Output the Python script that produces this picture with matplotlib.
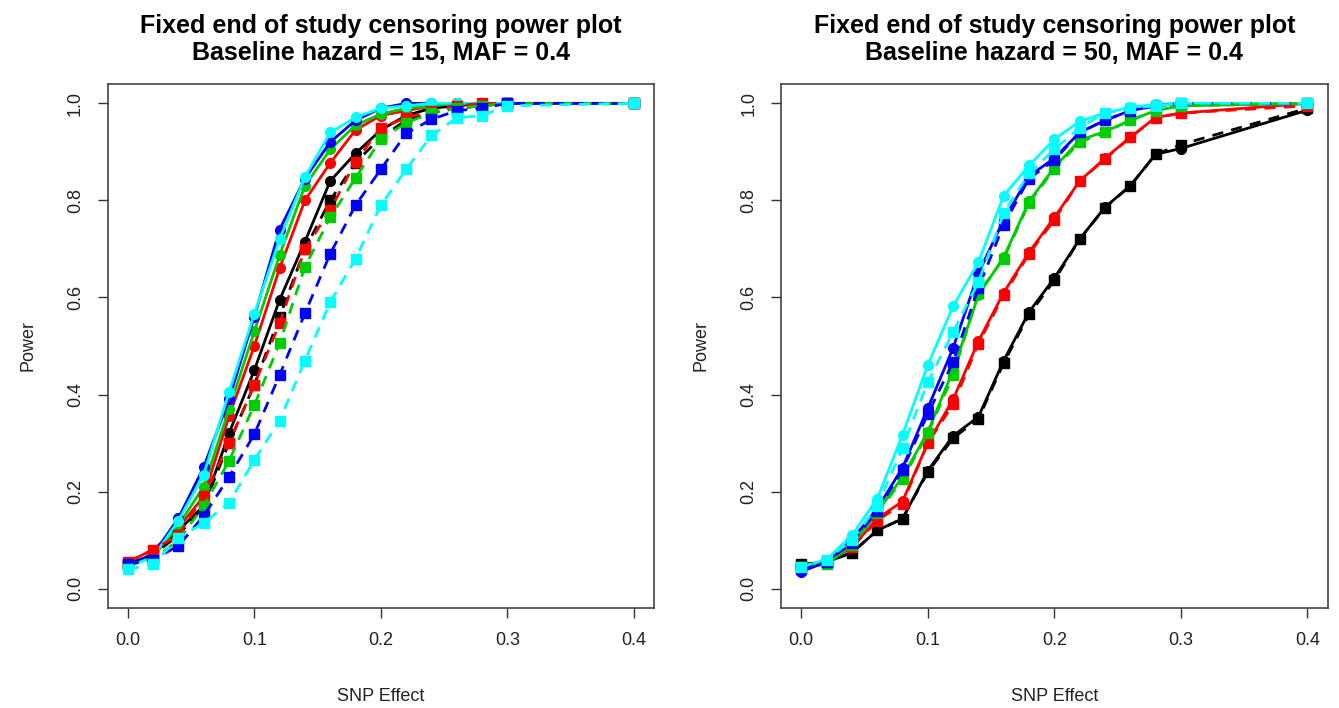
import matplotlib
matplotlib.use("Agg")
import matplotlib.pyplot as plt

plt.rcParams['font.family'] = ['Liberation Sans', 'DejaVu Sans']

snp_effect = [0.0, 0.02, 0.04, 0.06, 0.08, 0.10, 0.12, 0.14, 0.16, 0.18,
              0.20, 0.22, 0.24, 0.26, 0.28, 0.30, 0.40]
x_ticks = [0.0, 0.1, 0.2, 0.3, 0.4]
y_ticks = [0.0, 0.2, 0.4, 0.6, 0.8, 1.0]
colours = ["black", "red", "#00CD00", "blue", "cyan"]

titles = ["Fixed end of study censoring power plot\nBaseline hazard = 15, MAF = 0.4",
          "Fixed end of study censoring power plot\nBaseline hazard = 50, MAF = 0.4"]

# baseline hazard 15 -- solid lines (circles)
h15_solid = [
    [0.05, 0.07, 0.12, 0.17, 0.32, 0.45, 0.595, 0.715, 0.84, 0.897, 0.945, 0.975, 0.99, 0.995, 1.0, 1.0, 1.0],
    [0.055, 0.08, 0.125, 0.19, 0.355, 0.50, 0.66, 0.80, 0.877, 0.945, 0.975, 0.985, 0.995, 1.0, 1.0, 1.0, 1.0],
    [0.055, 0.065, 0.13, 0.21, 0.37, 0.53, 0.687, 0.83, 0.905, 0.955, 0.978, 0.99, 0.995, 1.0, 1.0, 1.0, 1.0],
    [0.05, 0.07, 0.145, 0.25, 0.39, 0.56, 0.74, 0.845, 0.92, 0.965, 0.99, 1.0, 1.0, 1.0, 1.0, 1.0, 1.0],
    [0.045, 0.065, 0.14, 0.235, 0.405, 0.566, 0.72, 0.848, 0.94, 0.971, 0.99, 0.995, 1.0, 1.0, 1.0, 1.0, 1.0],
]
# baseline hazard 15 -- dashed lines (squares)
h15_dashed = [
    [0.05, 0.07, 0.11, 0.17, 0.30, 0.42, 0.56, 0.70, 0.80, 0.878, 0.93, 0.965, 0.98, 0.99, 0.995, 1.0, 1.0],
    [0.055, 0.08, 0.11, 0.19, 0.30, 0.42, 0.547, 0.70, 0.78, 0.88, 0.95, 0.97, 0.985, 0.995, 1.0, 1.0, 1.0],
    [0.05, 0.06, 0.10, 0.17, 0.263, 0.378, 0.506, 0.663, 0.765, 0.846, 0.926, 0.96, 0.98, 0.99, 0.995, 1.0, 1.0],
    [0.05, 0.06, 0.088, 0.15, 0.23, 0.318, 0.44, 0.567, 0.69, 0.79, 0.864, 0.938, 0.967, 0.985, 0.99, 1.0, 1.0],
    [0.04, 0.05, 0.105, 0.135, 0.177, 0.265, 0.346, 0.47, 0.59, 0.68, 0.79, 0.864, 0.934, 0.97, 0.975, 0.995, 1.0],
]

# baseline hazard 50
h50_solid = [
    [0.05, 0.055, 0.074, 0.12, 0.144, 0.243, 0.315, 0.354, 0.47, 0.57, 0.64, 0.72, 0.786, 0.83, 0.895, 0.907, 0.986],
    [0.045, 0.055, 0.085, 0.144, 0.18, 0.30, 0.39, 0.51, 0.61, 0.693, 0.765, 0.84, 0.887, 0.93, 0.971, 0.98, 1.0],
    [0.045, 0.05, 0.09, 0.158, 0.23, 0.323, 0.45, 0.605, 0.683, 0.798, 0.868, 0.924, 0.942, 0.965, 0.985, 0.995, 1.0],
    [0.035, 0.055, 0.10, 0.165, 0.249, 0.372, 0.496, 0.65, 0.76, 0.85, 0.887, 0.94, 0.965, 0.985, 0.995, 1.0, 1.0],
    [0.045, 0.06, 0.11, 0.185, 0.317, 0.461, 0.582, 0.673, 0.81, 0.872, 0.926, 0.963, 0.98, 0.992, 0.998, 1.0, 1.0],
]
h50_dashed = [
    [0.05, 0.055, 0.074, 0.12, 0.144, 0.24, 0.31, 0.35, 0.465, 0.565, 0.635, 0.72, 0.785, 0.83, 0.895, 0.915, 0.99],
    [0.045, 0.055, 0.085, 0.14, 0.175, 0.30, 0.38, 0.505, 0.605, 0.69, 0.76, 0.84, 0.885, 0.93, 0.97, 0.98, 0.995],
    [0.045, 0.05, 0.09, 0.155, 0.225, 0.32, 0.44, 0.609, 0.68, 0.795, 0.865, 0.92, 0.94, 0.965, 0.985, 0.995, 1.0],
    [0.04, 0.055, 0.095, 0.16, 0.245, 0.36, 0.467, 0.62, 0.75, 0.845, 0.883, 0.94, 0.965, 0.985, 0.995, 1.0, 1.0],
    [0.045, 0.06, 0.10, 0.17, 0.29, 0.426, 0.529, 0.632, 0.774, 0.856, 0.905, 0.95, 0.98, 0.99, 0.995, 1.0, 1.0],
]

fig = plt.figure(figsize=(13.39, 7.08), dpi=100)
ax1 = fig.add_axes([0.0803, 0.1412, 0.4082, 0.7402])
ax2 = fig.add_axes([0.5833, 0.1412, 0.4082, 0.7402])

for ax, title, solid, dashed in [(ax1, titles[0], h15_solid, h15_dashed),
                                 (ax2, titles[1], h50_solid, h50_dashed)]:
    for c, ys in zip(colours, solid):
        ax.plot(snp_effect, ys, color=c, lw=2, marker="o", ms=7, mec=c)
    for c, ys in zip(colours, dashed):
        ax.plot(snp_effect, ys, color=c, lw=2, ls=(0, (4, 3)), marker="s", ms=6.5, mec=c)

    ax.set_xlim(-0.016, 0.416)
    ax.set_ylim(-0.04, 1.04)
    ax.set_xticks(x_ticks)
    ax.set_xticklabels(["%.1f" % t for t in x_ticks])
    ax.set_yticks(y_ticks)
    ax.set_yticklabels(["%.1f" % t for t in y_ticks], rotation=90, va="center")
    ax.tick_params(direction="out", length=7, width=1, colors="#333333",
                   labelsize=13, labelcolor="#222222")
    ax.tick_params(axis="x", pad=10)
    ax.tick_params(axis="y", pad=10)
    for s in ax.spines.values():
        s.set_color("#444444")
        s.set_linewidth(1.2)
    ax.set_xlabel("SNP Effect", fontsize=13, color="#222222", labelpad=28)
    ax.set_ylabel("Power", fontsize=13, color="#222222", labelpad=22)
    ax.set_title(title, fontsize=18, fontweight="bold", linespacing=1.2, pad=17)

fig.savefig("out.png", dpi=100)
